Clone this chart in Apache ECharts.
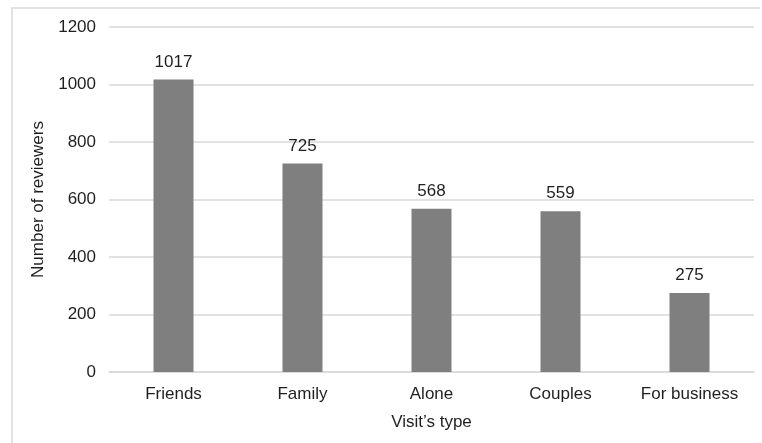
<!DOCTYPE html>
<html>
<head>
<meta charset="utf-8">
<script src="https://cdn.jsdelivr.net/npm/echarts@6/dist/echarts.min.js"></script>
<style>
  html, body { margin: 0; padding: 0; background: #fff; }
  #chart { width: 762px; height: 443px; }
</style>
</head>
<body>
<div id="chart"></div>
<script>
// Reviewer counts by visit type
const categories = ['Friends', 'Family', 'Alone', 'Couples', 'For business'];
const reviewers = [1017, 725, 568, 559, 275];
const yTicks = [0, 200, 400, 600, 800, 1000, 1200];

const font = '"Liberation Sans", Arial, sans-serif';
const textColor = '#1f1f1f';
const fontSize = 17;
const chart = echarts.init(document.getElementById('chart'));

chart.setOption({
  animation: false,
  backgroundColor: '#ffffff',
  graphic: [
    {
      type: 'polyline',
      shape: { points: [[12, 443], [12, 8], [760, 8]] },
      style: { stroke: '#d9d9d9', lineWidth: 1.5, fill: null }
    }
  ],
  grid: { left: 109, right: 8, top: 27, bottom: 71, containLabel: false },
  xAxis: {
    type: 'category',
    data: categories,
    name: 'Visit’s type',
    nameLocation: 'middle',
    nameGap: 42,
    nameTextStyle: { fontFamily: font, fontSize: fontSize, color: textColor },
    axisLine: { lineStyle: { color: '#d9d9d9', width: 1.5 } },
    axisTick: { show: false },
    axisLabel: { fontFamily: font, fontSize: fontSize, color: textColor, margin: 14 }
  },
  yAxis: {
    type: 'value',
    min: yTicks[0],
    max: yTicks[yTicks.length - 1],
    interval: yTicks[1] - yTicks[0],
    name: 'Number of reviewers',
    nameLocation: 'middle',
    nameGap: 56,
    nameTextStyle: { fontFamily: font, fontSize: fontSize, color: textColor },
    axisLine: { show: false },
    axisTick: { show: false },
    splitLine: { lineStyle: { color: '#d9d9d9', width: 1.5 } },
    axisLabel: {
      fontFamily: font,
      fontSize: fontSize,
      color: textColor,
      margin: 13,
      formatter: (v) => String(v)
    }
  },
  series: [
    {
      type: 'bar',
      data: reviewers,
      barWidth: 40,
      itemStyle: { color: '#7f7f7f' },
      label: {
        show: true,
        position: 'top',
        distance: 9,
        fontFamily: font,
        fontSize: fontSize,
        color: textColor
      }
    }
  ]
});
</script>
</body>
</html>
